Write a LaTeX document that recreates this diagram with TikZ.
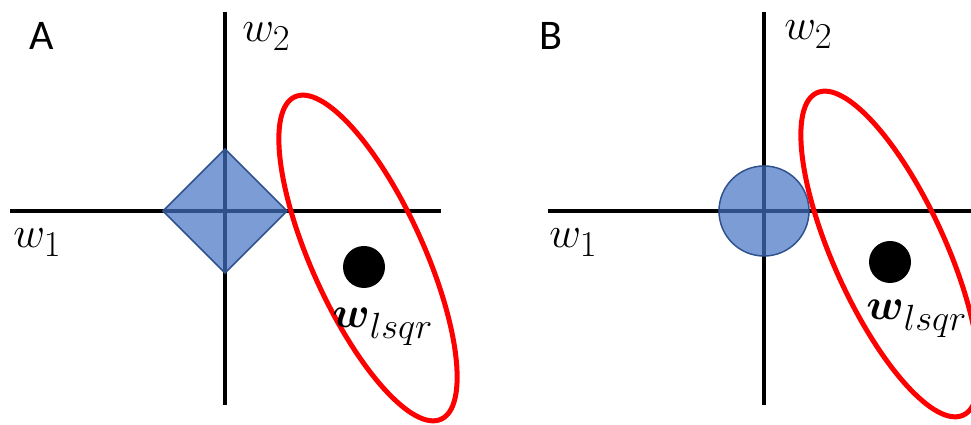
\documentclass[tikz,border=0pt]{standalone}
\usepackage{amsmath}
\usepackage{fontspec}
\usepackage{xcolor}
\usepackage{tikz}
\newfontfamily\panelfont{Carlito}
\definecolor{RGBlue}{HTML}{4472C4}
\definecolor{RGBlueLine}{HTML}{2F528F}
\definecolor{RGRed}{HTML}{FF0000}

\begin{document}
\begin{tikzpicture}[x=0.02cm,y=0.02cm,
  axis/.style={line width=0.08cm,black},
  ballshape/.style={fill=RGBlue,fill opacity=.7,draw=RGBlueLine,line width=0.03cm},
  lossline/.style={draw=RGRed,line width=0.1cm},
  panellabel/.style={anchor=base west,inner sep=0pt,font=\panelfont\fontsize{24}{28}\selectfont},
  mathlabel/.style={anchor=base west,inner sep=0pt,font=\fontsize{28}{32}\selectfont}]
\path[use as bounding box] (0,0) rectangle (971,425);
\clip (0,0) rectangle (971,425);
% panel A
\draw[axis] (225,20) -- (225,413);
\draw[axis] (10,214) -- (441,214);
\path[ballshape] (163,214) -- (225,276) -- (287,214) -- (225,152) -- cycle;
\draw[lossline,rotate around={-65.6:(368,167)}] (368,167) ellipse [x radius=177,y radius=56];
\fill (364,158) circle (21);
\node[panellabel] (labA) at (29,375) {A};
\node[mathlabel] (w2A) at (242,383) {$w_2$};
\node[mathlabel] (w1A) at (13,177) {$w_1$};
\node[mathlabel] (lsqrA) at (332,97) {$\boldsymbol{w}_{lsqr}$};
% panel B
\draw[axis] (764,20) -- (764,413);
\draw[axis] (548,214) -- (975,214);
\path[ballshape] (764,214) circle (45);
\draw[lossline,rotate around={-65.6:(890,171)}] (890,171) ellipse [x radius=177,y radius=56];
\fill (890,163) circle (21);
\node[panellabel] (labB) at (539,375) {B};
\node[mathlabel] (w2B) at (784,385) {$w_2$};
\node[mathlabel] (w1B) at (549,177) {$w_1$};
\node[mathlabel] (lsqrB) at (866,105) {$\boldsymbol{w}_{lsqr}$};
\end{tikzpicture}
\end{document}
